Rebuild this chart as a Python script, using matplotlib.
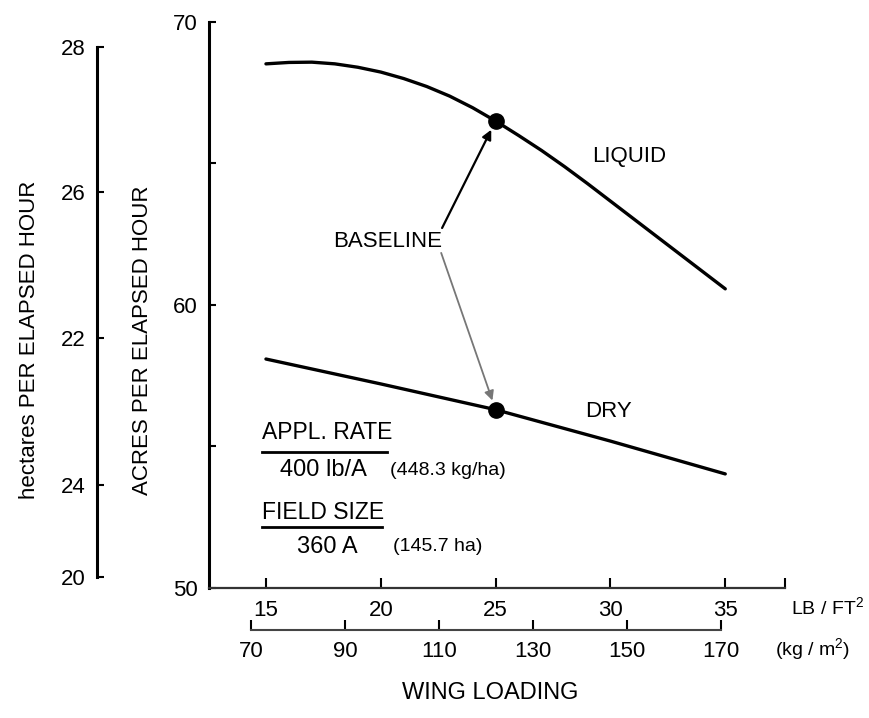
import matplotlib
matplotlib.use('Agg')
import matplotlib.pyplot as plt
import numpy as np

plt.rcParams['font.family'] = ['Liberation Sans', 'DejaVu Sans']
plt.rcParams['mathtext.fontset'] = 'custom'
plt.rcParams['mathtext.rm'] = 'Liberation Sans'

# wing loading, lb/ft^2, and acres per elapsed hour
liquid_x = [15, 16, 17, 18, 19, 20, 21, 22, 23, 24, 25,
            26, 27, 28, 29, 30, 31, 32, 33, 34, 35]
liquid_y = [68.52, 68.57, 68.58, 68.52, 68.40, 68.23, 68.00, 67.72, 67.38,
            66.97, 66.50, 65.99, 65.46, 64.89, 64.29, 63.67, 63.05, 62.43,
            61.81, 61.19, 60.57]
dry_x = [15, 20, 25, 30, 35]
dry_y = [58.09, 57.21, 56.30, 55.19, 54.03]
baseline_x = 25

acres_ticks = [50, 55, 60, 65, 70]
acres_labels = ['50', '', '60', '', '70']
# hectare scale as printed (positions read in acres units)
ha_tick_pos = [50.39, 53.64, 58.83, 63.99, 69.12]
ha_labels = ['20', '24', '22', '26', '28']
lb_ticks = [15, 20, 25, 30, 35]
kg_ticks = [70, 90, 110, 130, 150, 170]
KG_PER_LB = 4.882

fig = plt.figure(figsize=(8.69, 7.18), dpi=100)
pos = [0.2405, 0.1811, 0.9033 - 0.2405, 0.9694 - 0.1811]
ax = fig.add_axes(pos)
ax.set_xlim(12.52, 37.6)
ax.set_ylim(50, 70)

for s in ['top', 'right']:
    ax.spines[s].set_visible(False)
ax.spines['left'].set_linewidth(2.2)
ax.spines['bottom'].set_linewidth(1.6)
ax.spines['bottom'].set_color('#333333')

ax.set_yticks(acres_ticks)
ax.set_yticklabels(acres_labels)
ax.set_xticks(lb_ticks)
ax.set_xticks([37.6], minor=True)
ax.tick_params(axis='y', direction='in', length=5, width=1.5, labelsize=16, pad=8)
ax.tick_params(axis='x', which='both', direction='in', length=7, width=1.5,
               labelsize=16, pad=9)

# curves
ax.plot(liquid_x, liquid_y, color='black', lw=2.4, solid_capstyle='round')
ax.plot(dry_x, dry_y, color='black', lw=2.4, solid_capstyle='round')
liq_b = np.interp(baseline_x, liquid_x, liquid_y)
dry_b = np.interp(baseline_x, dry_x, dry_y)
ax.plot([baseline_x, baseline_x], [liq_b, dry_b], 'o', color='black', ms=11,
        linestyle='none')

ax.text(20.32, 62.23, 'BASELINE', ha='center', va='center', fontsize=16)
ax.annotate('', xy=(baseline_x, liq_b), xytext=(22.67, 62.72),
            arrowprops=dict(arrowstyle='-|>', color='black', lw=1.6,
                            shrinkA=0, shrinkB=7, mutation_scale=14))
ax.annotate('', xy=(baseline_x, dry_b), xytext=(22.63, 61.84),
            arrowprops=dict(arrowstyle='-|>', color='#777777', lw=1.3,
                            shrinkA=0, shrinkB=7, mutation_scale=14))
ax.text(30.82, 65.23, 'LIQUID', ha='center', va='center', fontsize=16)
ax.text(28.9, 56.22, 'DRY', ha='left', va='center', fontsize=16)

# application notes
ax.text(0.092, 0.274, 'APPL. RATE', transform=ax.transAxes, fontsize=16.5,
        va='center')
ax.plot([0.092, 0.309], [0.240, 0.240], transform=ax.transAxes,
        color='black', lw=2)
ax.text(0.123, 0.208, '400 lb/A', transform=ax.transAxes, fontsize=17,
        va='center')
ax.text(0.314, 0.208, '(448.3 kg/ha)', transform=ax.transAxes, fontsize=14,
        va='center')
ax.text(0.092, 0.134, 'FIELD SIZE', transform=ax.transAxes, fontsize=16.5,
        va='center')
ax.plot([0.092, 0.300], [0.108, 0.108], transform=ax.transAxes,
        color='black', lw=2)
ax.text(0.153, 0.073, '360 A', transform=ax.transAxes, fontsize=17,
        va='center')
ax.text(0.320, 0.073, '(145.7 ha)', transform=ax.transAxes, fontsize=14,
        va='center')

# second x scale, kg/m^2
sec = ax.secondary_xaxis(-0.0742, functions=(lambda x: x * KG_PER_LB,
                                             lambda x: x / KG_PER_LB))
sec.set_xticks(kg_ticks)
sec.spines['bottom'].set_bounds(kg_ticks[0], kg_ticks[-1])
sec.spines['bottom'].set_linewidth(1.5)
sec.spines['bottom'].set_color('#444444')
sec.tick_params(direction='in', length=7, width=1.5, labelsize=16, pad=8)

# hectare scale
axh = fig.add_axes(pos)
axh.set_ylim(50, 70)
axh.patch.set_visible(False)
for s in ['top', 'right', 'bottom']:
    axh.spines[s].set_visible(False)
axh.spines['left'].set_position(('axes', -0.1944))
axh.spines['left'].set_bounds(ha_tick_pos[0], ha_tick_pos[-1])
axh.spines['left'].set_linewidth(2.2)
axh.set_xticks([])
axh.set_yticks(ha_tick_pos)
axh.set_yticklabels(ha_labels)
axh.tick_params(axis='y', direction='in', length=5, width=1.5, labelsize=16,
                pad=8)

# labels
fig.text(30 / 869, 1 - 340 / 718, 'hectares PER ELAPSED HOUR', rotation=90,
         ha='center', va='center', fontsize=16)
fig.text(143 / 869, 1 - 340 / 718, 'ACRES PER ELAPSED HOUR', rotation=90,
         ha='center', va='center', fontsize=16)
fig.text(791 / 869, 1 - 608 / 718, 'LB / FT$^2$', ha='left', va='center',
         fontsize=14)
fig.text(775 / 869, 1 - 650 / 718, '(kg / m$^2$)', ha='left', va='center',
         fontsize=14)
fig.text(490 / 869, 1 - 693 / 718, 'WING LOADING', ha='center', va='center',
         fontsize=17)

fig.savefig('out.png', dpi=100)
